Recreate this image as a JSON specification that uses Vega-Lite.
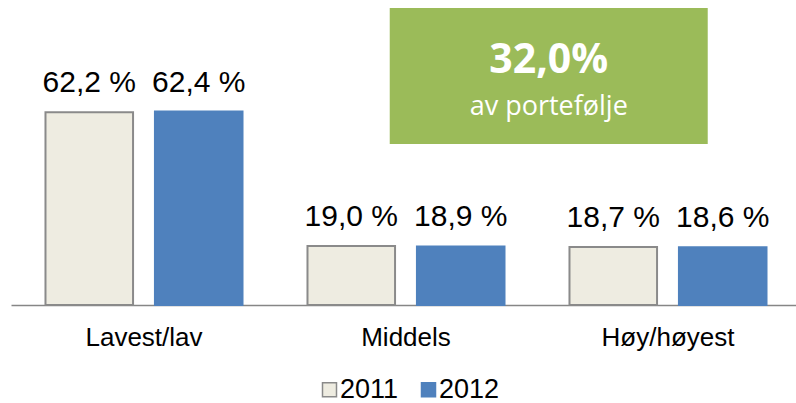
{
  "$schema": "https://vega.github.io/schema/vega-lite/v6.json",
  "width": 785,
  "height": 297,
  "autosize": {"type": "none"},
  "padding": {"left": 11, "top": 8, "right": 0, "bottom": 98},
  "background": "white",
  "config": {
    "view": {"stroke": null},
    "font": "Liberation Sans"
  },
  "datasets": {
    "note": [
      {"category": "Middels", "year": "2012", "big": "32,0%", "small": "av portefølje", "pct_box": 73.87, "pct_big": 74.83, "pct_small": 61.29}
    ]
  },
  "data": {
    "values": [
      {"category": "Lavest/lav", "year": "2011", "share": 62.2},
      {"category": "Lavest/lav", "year": "2012", "share": 62.4},
      {"category": "Middels", "year": "2011", "share": 19.0},
      {"category": "Middels", "year": "2012", "share": 18.9},
      {"category": "Høy/høyest", "year": "2011", "share": 18.7},
      {"category": "Høy/høyest", "year": "2012", "share": 18.6}
    ]
  },
  "encoding": {
    "x": {
      "field": "category", "type": "nominal",
      "scale": {"domain": ["Lavest/lav", "Middels", "Høy/høyest"], "paddingInner": 0.248, "paddingOuter": 0.1221, "align": 0.539},
      "axis": {"title": null, "labelAngle": 0, "ticks": false, "domainColor": "#868686", "domainWidth": 1.5, "labelFontSize": 26, "labelFont": "Liberation Sans", "labelColor": "#000000", "labelPadding": 40, "labelBaseline": "alphabetic"}
    },
    "xOffset": {"field": "year", "type": "nominal", "scale": {"domain": ["2011", "2012"], "paddingInner": 0.2, "paddingOuter": 0}},
    "y": {"field": "share", "type": "quantitative", "scale": {"domain": [0, 95.8], "nice": false, "zero": true}, "axis": null}
  },
  "layer": [
    {
      "data": {"name": "note"},
      "mark": {"type": "point", "shape": "M-0.4465,-0.4277L1.5535,-0.4277L1.5535,0.4277L-0.4465,0.4277Z", "size": 101124, "filled": true, "opacity": 1, "color": "#9BBB59", "strokeWidth": 0},
      "encoding": {
        "y": {"field": "pct_box", "type": "quantitative"}
      }
    },
    {
      "mark": {"type": "bar", "strokeWidth": 2},
      "encoding": {
        "fill": {
          "field": "year", "type": "nominal",
          "scale": {"domain": ["2011", "2012"], "range": ["#EEECE1", "#4F81BD"]},
          "legend": {"orient": "none", "legendX": 305, "legendY": 368, "direction": "horizontal", "title": null, "symbolType": "square", "symbolSize": 196, "symbolStrokeWidth": 1.5, "labelFontSize": 27, "labelFont": "Liberation Sans", "labelColor": "#000000", "columnPadding": 16, "labelOffset": -3, "padding": 0}
        },
        "stroke": {
          "field": "year", "type": "nominal",
          "scale": {"domain": ["2011", "2012"], "range": ["#8A8A8A", "#4F81BD"]},
          "legend": {"orient": "none", "legendX": 305, "legendY": 368, "direction": "horizontal", "title": null, "symbolType": "square", "symbolSize": 196, "symbolStrokeWidth": 1.5, "labelFontSize": 27, "labelFont": "Liberation Sans", "labelColor": "#000000", "columnPadding": 16, "labelOffset": -3, "padding": 0}
        }
      }
    },
    {
      "transform": [{"calculate": "replace(format(datum.share, '.1f'), '.', ',') + ' %'", "as": "label"}],
      "mark": {"type": "text", "dy": -20, "baseline": "alphabetic", "fontSize": 30, "font": "Liberation Sans", "color": "#000000"},
      "encoding": {
        "text": {"field": "label"}
      }
    },
    {
      "data": {"name": "note"},
      "mark": {"type": "text", "baseline": "alphabetic", "fontSize": 41, "fontWeight": "bold", "font": "Open Sans", "color": "#FFFFFF", "dx": 88},
      "encoding": {
        "y": {"field": "pct_big", "type": "quantitative"},
        "text": {"field": "big"}
      }
    },
    {
      "data": {"name": "note"},
      "mark": {"type": "text", "baseline": "alphabetic", "fontSize": 27, "font": "Open Sans", "color": "#FFFFFF", "dx": 88},
      "encoding": {
        "y": {"field": "pct_small", "type": "quantitative"},
        "text": {"field": "small"}
      }
    }
  ]
}
